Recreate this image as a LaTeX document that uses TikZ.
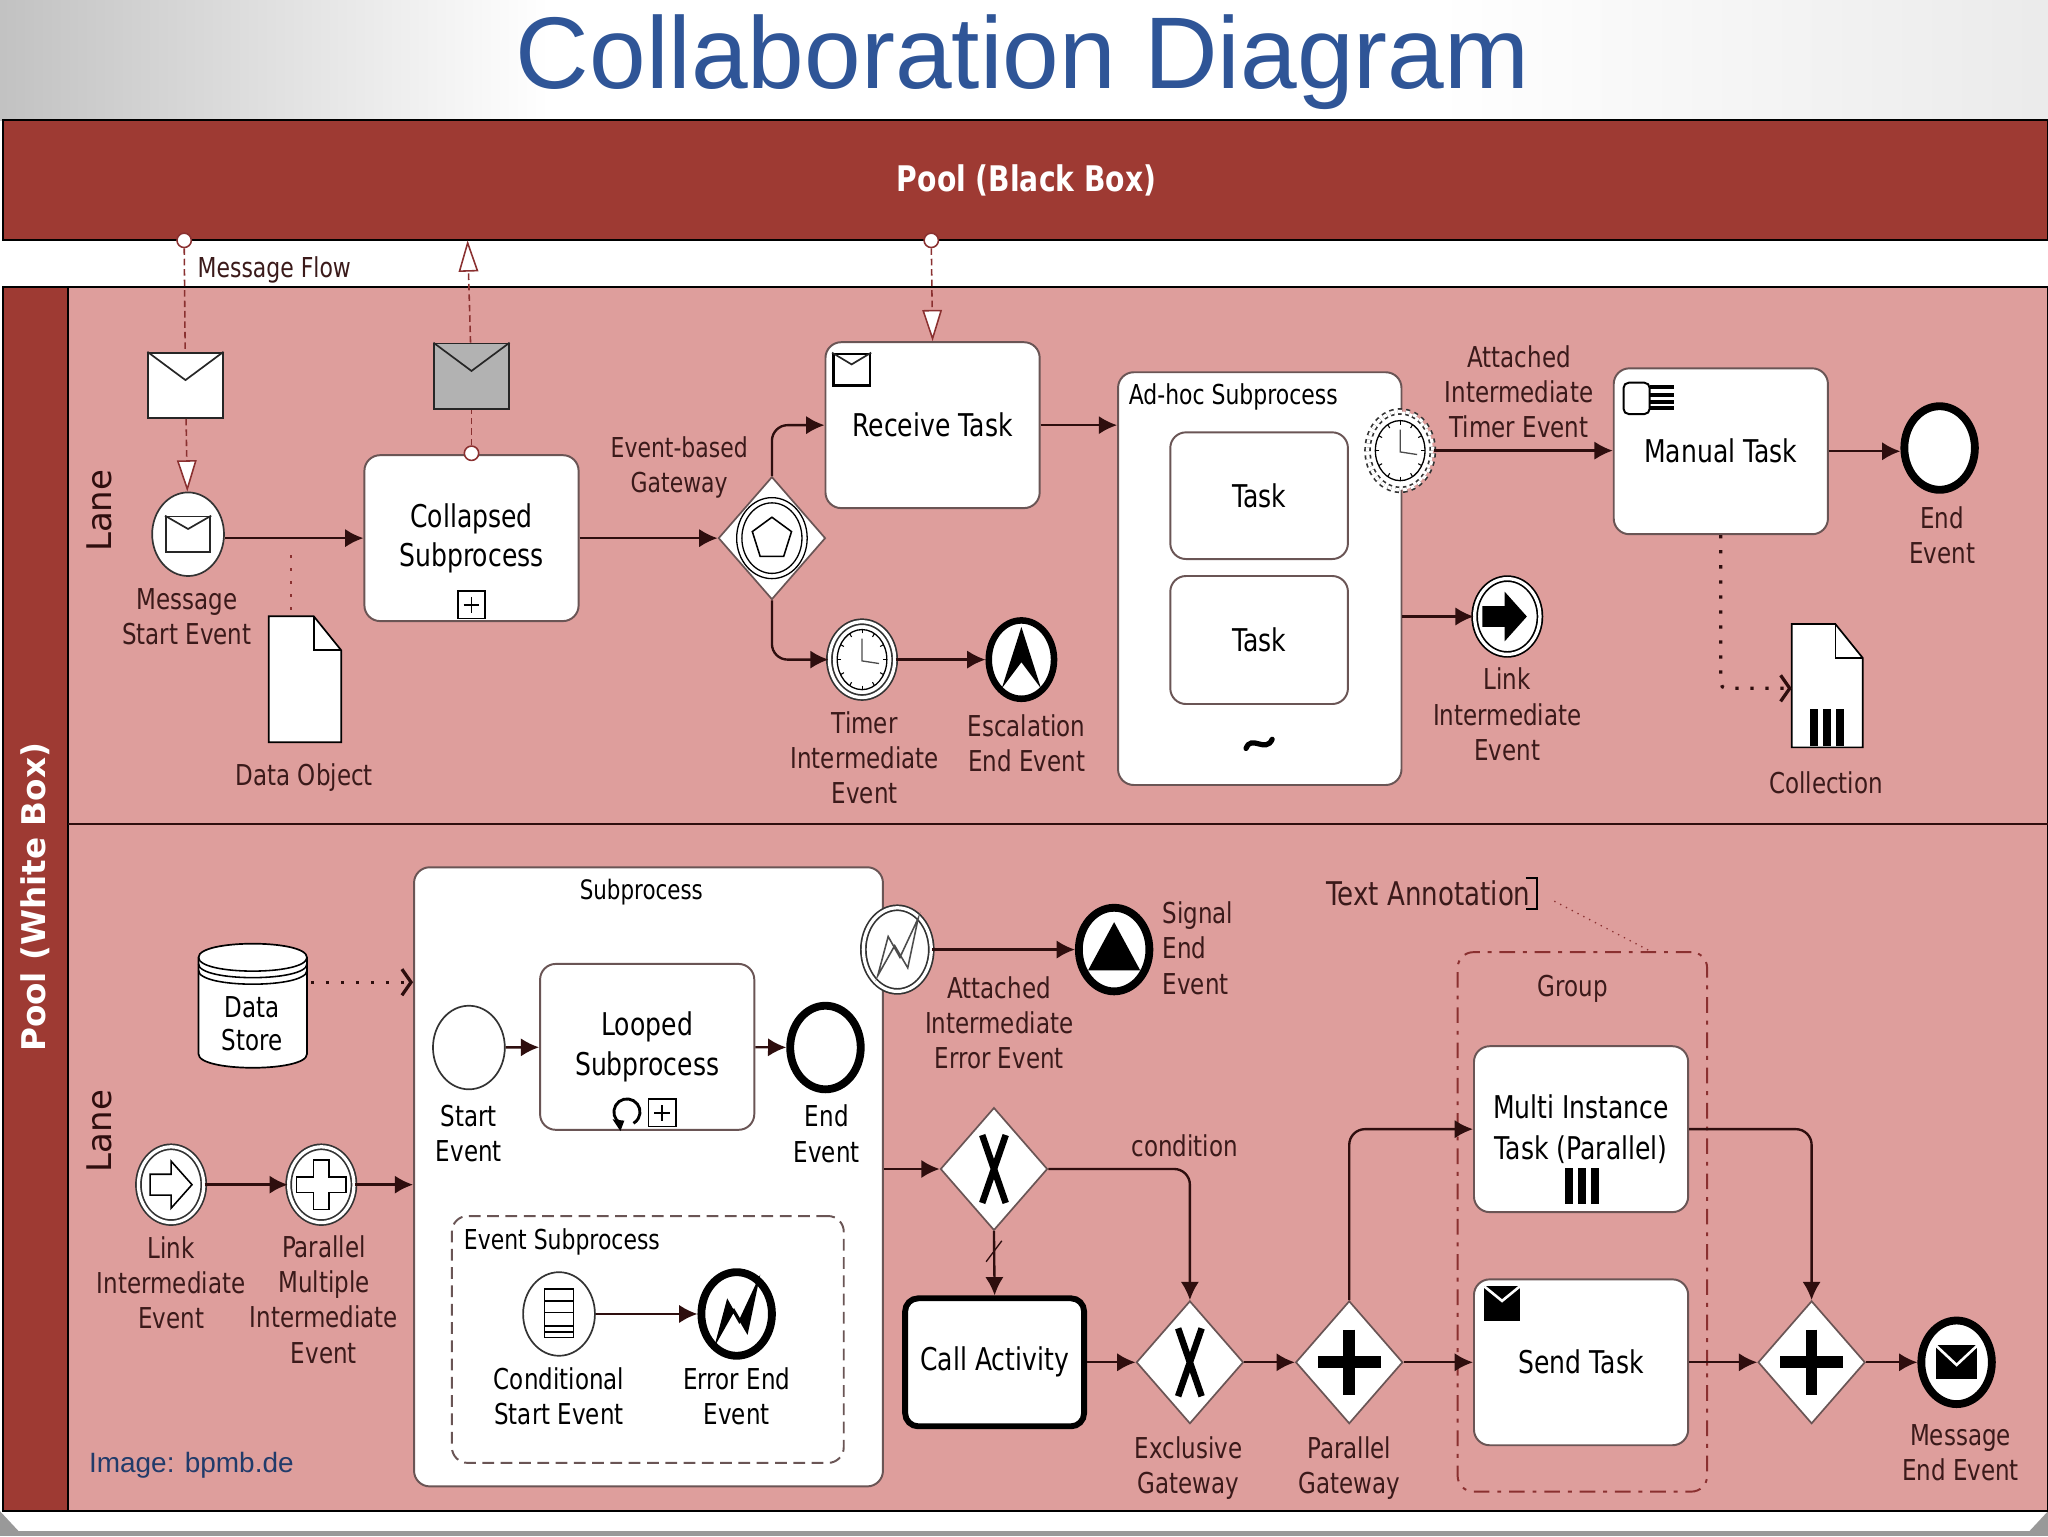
\documentclass[tikz,border=0pt]{standalone}
\usepackage{fontspec}
\usetikzlibrary{arrows.meta,shapes.geometric}
\setmainfont[FakeStretch=0.8]{DejaVu Sans}
\newfontfamily\widefont{DejaVu Sans}
\newfontfamily\titlefont{Liberation Sans}
\definecolor{poolred}{HTML}{9E3A33}
\definecolor{lanered}{HTML}{DE9E9C}
\definecolor{flowcol}{HTML}{2E0E0E}
\definecolor{msgcol}{HTML}{8A3030}
\definecolor{boxline}{HTML}{6A5555}
\definecolor{labelcol}{HTML}{3B1A1A}
\definecolor{titleblue}{HTML}{2F5597}
\tikzset{
	task/.style={draw=boxline,line width=1.5pt,fill=white,rounded corners=12pt,minimum width=164pt,minimum height=127pt,align=center,inner sep=0pt,text=black,font=\fontsize{24}{30}\selectfont},
	event/.style={ellipse,draw=black!80,line width=1.3pt,fill=white,inner sep=0pt,minimum width=55pt,minimum height=64pt},
	endevent/.style={event,draw=black,line width=6pt,minimum width=54pt,minimum height=64pt},
	interevent/.style={event,double=white,double distance=2.5pt,minimum width=50pt,minimum height=58pt},
	gateway/.style={diamond,draw=boxline,line width=1.3pt,fill=white,inner sep=0pt,minimum width=82pt,minimum height=94pt,aspect=0.87},
	flow/.style={draw=flowcol,line width=1.8pt,-{Latex[length=14pt,width=14pt]}},
	msgflow/.style={draw=msgcol,line width=1.2pt,dash pattern=on 5pt off 3pt,-{Triangle[open,fill=white,length=24pt,width=15pt]}},
	msgline/.style={draw=msgcol,line width=1.2pt,dash pattern=on 5pt off 3pt},
	assoc/.style={draw=flowcol,line width=2.5pt,dash pattern=on 2.5pt off 9pt,-{Straight Barb[length=7pt,width=20pt]}},
	msgdot/.style={circle,draw=msgcol,line width=1.2pt,fill=white,inner sep=0pt,minimum size=11pt},
	mailbox/.style={draw=black!85,line width=1.3pt,fill=white,inner sep=0pt,minimum width=57pt,minimum height=50pt},
	paper/.style={inner sep=0pt,minimum width=55pt,minimum height=96pt},
	note/.style={align=center,text=labelcol,inner sep=0pt},
	plusbox/.style={draw=black,line width=1.2pt,fill=white,inner sep=0pt,minimum size=21pt},
	clockface/.pic={
		\draw[line width=1pt] (0,0) ellipse [x radius=19,y radius=23];
		\foreach \ang in {0,30,...,330}
			\draw[line width=.8pt] (\ang:16 and 20) -- (\ang:19 and 23);
		\draw[line width=1pt,black!70] (0,-16) -- (0,1) -- (13,3);
	},
	boltmark/.pic={
		\path[pic actions] (-15,20) -- (-7,-10) -- (2,6) -- (16,-24) -- (8,14) -- (-2,-3) -- cycle;
	},
	barsmark/.pic={
		\foreach \dx in {-13,-3,7}
			\fill[black] (\dx,-14) rectangle ++(6,28);
	},
	plussign/.pic={
		\draw[line width=1.4pt] (-6,0) -- (6,0) (0,-6) -- (0,6);
	},
}
\newcommand{\mailfold}[1]{\draw[black!85,line width=1.3pt] (#1.north west) -- ([yshift=4pt]#1.center) -- (#1.north east);}
\newcommand{\papersheet}[1]{
	\draw[draw=black,line width=1.3pt,fill=white] (#1.north west) -- ([xshift=-21pt]#1.north east) -- ([yshift=-26pt]#1.north east) -- (#1.south east) -- (#1.south west) -- cycle;
	\draw[draw=black,line width=1.3pt] ([xshift=-21pt]#1.north east) -- ([xshift=-21pt,yshift=-26pt]#1.north east) -- ([yshift=-26pt]#1.north east);
}
\begin{document}
\begin{tikzpicture}[x=1pt,y=-1pt]
	\useasboundingbox (0, 0) rectangle (1568, 1176);
	\fill[white] (0, 0) rectangle (1568, 1176);
	\shade[left color=black!24,right color=white] (0, 0) rectangle (420, 92);
	\shade[left color=white,right color=black!8] (1100, 0) rectangle (1568, 92);
	\fill[black!40] (0, 1172) rectangle (1568, 1176);
	\fill[black!40] (0, 1157) -- (14, 1172) -- (0, 1172) -- cycle;
	\fill[black!40] (1568, 1157) -- (1554, 1172) -- (1568, 1172) -- cycle;

	\draw[black,line width=1.5pt,fill=poolred] (2, 92) rectangle (1568, 184);
	\draw[black,line width=1.5pt,fill=lanered] (2, 220) rectangle (1568, 1157);
	\draw[black,line width=1.5pt,fill=poolred] (2, 220) rectangle (52, 1157);
	\draw[flowcol,line width=1.5pt] (52, 631) -- (1568, 631);

	\begin{scope}[every node/.append style={font=\fontsize{22}{27}\selectfont}]
		\node[text=titleblue,anchor=base,font=\titlefont\fontsize{78}{90}\selectfont] (title) at (783, 68) {Collaboration Diagram};
		\node[text=white,font=\bfseries\fontsize{27}{30}\selectfont] (blackbox) at (786, 138) {Pool (Black Box)};
		\node[text=white,rotate=90,font=\widefont\bfseries\fontsize{25}{28}\selectfont] (whitebox) at (27, 687) {Pool (White Box)};
		\node[text=flowcol,rotate=90,font=\widefont\fontsize{26}{28}\selectfont] (lane1) at (76, 391) {Lane};
		\node[text=flowcol,rotate=90,font=\widefont\fontsize{26}{28}\selectfont] (lane2) at (76, 866) {Lane};

		\node[msgdot] (dot1) at (141, 184) {};
		\node[mailbox] (mail1) at (142, 295) {};
		\node[event] (msgstart) at (144, 409) {};
		\node[task] (collapsed) at (361, 412) {Collapsed\\Subprocess};
		\node[plusbox] (collapsedplus) at (361, 463) {};
		\node[msgdot] (dot2) at (361, 347) {};
		\node[mailbox,fill=black!30] (mail2) at (361, 288) {};
		\coordinate (pooledge) at (358, 184);
		\node[msgdot] (dot3) at (713, 184) {};
		\node[paper] (dataobject) at (233.5, 520) {};
		\coordinate (dataend) at (223, 425);
		\node[gateway] (eventgw) at (591, 412) {};
		\node[task] (receive) at (714, 325.5) {Receive Task};
		\node[mailbox,line width=2pt,draw=black,minimum width=28pt,minimum height=24pt] (receivemail) at (652, 283) {};
		\node[interevent] (timer) at (660, 505) {};
		\node[endevent,line width=5pt,minimum width=50pt,minimum height=60pt] (escalation) at (782, 505) {};

		\node[task,minimum width=217pt,minimum height=316pt] (adhoc) at (964.5, 443) {};
		\node[task,minimum width=136pt,minimum height=97pt] (task1) at (964, 379.5) {Task};
		\node[task,minimum width=136pt,minimum height=98pt] (task2) at (964, 490) {Task};
		\node[interevent,dashed,minimum width=50pt,minimum height=60pt] (attimer) at (1072, 345) {};
		\node[task] (manual) at (1317.5, 345.5) {Manual Task};
		\node[endevent] (end1) at (1485, 343) {};
		\node[interevent,draw=black] (link1) at (1154, 472) {};
		\node[paper,minimum width=54pt,minimum height=94pt] (collection) at (1399, 525) {};
		\coordinate (collectbend) at (1317, 527);

		\node[task,minimum width=359pt,minimum height=474pt] (subprocess) at (496.5, 901) {};
		\node[inner sep=0pt,minimum width=83pt,minimum height=94pt,align=center] (datastore) at (193.5, 770) {};
		\coordinate (storeout) at (238, 752);
		\node[event] (start) at (359, 802) {};
		\node[task,font=\fontsize{24}{31}\selectfont] (looped) at (495.5, 801.5) {Looped\\Subprocess};
		\node[plusbox] (loopedplus) at (507, 852) {};
		\node[endevent] (end2) at (632, 802) {};
		\node[task,dash pattern=on 9pt off 5pt,minimum width=300pt,minimum height=189pt] (eventsub) at (496, 1025.5) {};
		\node[event] (conditional) at (428, 1006) {};
		\node[endevent] (errorend) at (564, 1006) {};
		\node[interevent] (link2) at (131, 907) {};
		\node[interevent] (parmulti) at (246, 907) {};
		\node[interevent,minimum width=52pt,minimum height=64pt] (aterror) at (687, 727) {};
		\node[endevent] (signal) at (853, 727) {};

		\node[gateway] (xorsplit) at (761, 895) {};
		\node[task,draw=black,line width=4.5pt,minimum width=137pt,minimum height=98pt,rounded corners=10pt] (call) at (761.5, 1043) {Call Activity};
		\node[gateway] (xorjoin) at (911, 1043) {};
		\node[gateway] (andsplit) at (1033, 1043) {};
		\node[task,font=\fontsize{24}{31}\selectfont] (multi) at (1210.5, 864.5) {Multi Instance\\Task (Parallel)};
		\node[task] (send) at (1210.5, 1043) {Send Task};
		\node[mailbox,draw=black,fill=black,minimum width=26pt,minimum height=25pt] (sendmail) at (1150, 998) {};
		\node[gateway] (andjoin) at (1387, 1043) {};
		\node[endevent] (msgend) at (1498, 1043) {};
		\node[task,draw=msgcol,dash pattern=on 12pt off 6pt on 3pt off 6pt,fill=none,minimum width=191pt,minimum height=413pt] (group) at (1211.5, 935.5) {};
		\coordinate (groupin) at (1265, 729);

		\node[note,font=\fontsize{21}{27}\selectfont] (notemsg) at (210, 207) {Message Flow};
		\node[note] (notestart) at (143, 472) {Message\\Start Event};
		\node[note] (notedata) at (233, 595) {Data Object};
		\node[note,font=\fontsize{21}{27}\selectfont] (notegw) at (520, 358) {Event-based\\Gateway};
		\node[note] (notetimer) at (662, 580) {Timer\\Intermediate\\Event};
		\node[note] (noteesc) at (786, 569) {Escalation\\End Event};
		\node[note,anchor=west,text=black,font=\fontsize{21}{27}\selectfont] (noteadhoc) at (864, 304) {Ad-hoc Subprocess};
		\node[note] (noteattimer) at (1163, 300) {Attached\\Intermediate\\Timer Event};
		\node[note] (noteend) at (1487, 410) {End\\Event};
		\node[note] (notelink) at (1154, 547) {Link\\Intermediate\\Event};
		\node[note] (notecoll) at (1398, 599) {Collection};
		\node[note,text=black,font=\fontsize{20.5}{27}\selectfont] (notesub) at (491, 683) {Subprocess};
		\node[note,text=black] (notestartev) at (359, 868) {Start\\Event};
		\node[note,text=black] (noteendev) at (633, 868) {End\\Event};
		\node[note,anchor=west,text=black,font=\fontsize{21}{27}\selectfont] (noteevsub) at (355, 951) {Event Subprocess};
		\node[note,text=black] (notecond) at (428, 1069) {Conditional\\Start Event};
		\node[note,text=black] (noteerr) at (564, 1069) {Error End\\Event};
		\node[note] (notelink2) at (131, 982) {Link\\Intermediate\\Event};
		\node[note] (notepar) at (248, 995) {Parallel\\Multiple\\Intermediate\\Event};
		\node[note] (noteaterr) at (765, 783) {Attached\\Intermediate\\Error Event};
		\node[note,align=left,anchor=west] (notesig) at (890, 726) {Signal\\End\\Event};
		\node[note] (notecondit) at (907, 877) {condition};
		\node[note] (notexor) at (910, 1124) {Exclusive\\Gateway};
		\node[note] (notepg) at (1033, 1124) {Parallel\\Gateway};
		\node[note] (notegroup) at (1204, 757) {Group};
		\node[note,anchor=east,font=\fontsize{25}{27}\selectfont] (noteannot) at (1172, 684) {Text Annotation};
		\coordinate (annotend) at (1190, 690);
		\node[note] (notemsgend) at (1501, 1112) {Message\\End Event};
		\node[text=titleblue!70!black,anchor=west,inner sep=0pt,font=\titlefont\fontsize{21.4}{24}\selectfont] (credit) at (68, 1122) {Image: bpmb.de};
	\end{scope}

	\papersheet{dataobject}
	\papersheet{collection}
	\mailfold{mail1}
	\mailfold{mail2}
	\mailfold{receivemail}
	\draw[white,line width=2pt] (sendmail.north west) -- ([yshift=2pt]sendmail.center) -- (sendmail.north east);
	\pic at (collapsedplus) {plussign};
	\pic at (loopedplus) {plussign};
	\pic at (1211, 908) {barsmark};
	\pic at (1399, 557) {barsmark};

	\node[mailbox,minimum width=34pt,minimum height=27pt] (startmail) at (144, 409) {};
	\mailfold{startmail}
	\draw[line width=1pt] (eventgw) ellipse [x radius=27,y radius=31];
	\draw[line width=1pt] (eventgw) ellipse [x radius=23,y radius=27];
	\draw[line width=1.2pt] (591, 396) -- (606, 407) -- (600, 426) -- (582, 426) -- (576, 407) -- cycle;
	\pic at (timer) {clockface};
	\pic at (attimer) {clockface};
	\fill[black] (782, 480) -- (797, 527) -- (782, 507) -- (767, 527) -- cycle;
	\fill[black] (1135, 464) -- (1152, 464) -- (1152, 453) -- (1169, 472) -- (1152, 491) -- (1152, 480) -- (1135, 480) -- cycle;
	\draw[line width=1.2pt,fill=white] (115, 899) -- (131, 899) -- (131, 889) -- (147, 907) -- (131, 925) -- (131, 915) -- (115, 915) -- cycle;
	\draw[line width=1.4pt] (240, 888) -- (252, 888) -- (252, 901) -- (265, 901) -- (265, 913) -- (252, 913) -- (252, 926) -- (240, 926) -- (240, 913) -- (227, 913) -- (227, 901) -- (240, 901) -- cycle;
	\pic[draw=black!70,line width=1.2pt,fill=white] at (aterror) {boltmark};
	\pic[draw=black,line width=1.5pt,fill=black] at (errorend) {boltmark};
	\fill[black] (853, 706) -- (873, 743) -- (833, 743) -- cycle;
	\draw[line width=1.2pt] (417, 987) rectangle (439, 1024) (417, 996) -- (439, 996) (417, 1005) -- (439, 1005) (417, 1015) -- (439, 1015) (417, 1020) -- (439, 1020);
	\fill[black] (1482, 1030) rectangle (1514, 1056);
	\draw[white,line width=2pt] (1482, 1030) -- (1498, 1045) -- (1514, 1030);
	\draw[line width=4pt,line cap=round] (954, 573) .. controls (958, 562) and (969, 577) .. (974, 566);
	\draw[line width=2.2pt] (475, 860) arc [start angle=120,end angle=420,radius=10];
	\fill[black] (469, 857) -- (478, 858) -- (475, 866) -- cycle;
	\draw[line width=1.5pt,rounded corners=4pt] (1243, 293) rectangle (1263, 317);
	\foreach \ybar in {295,301,306,311}
		\fill[black] (1263, \ybar) rectangle (1282, \ybar + 3);
	\draw[black,line width=1.5pt] (1168, 672) -- (1177, 672) -- (1177, 696) -- (1168, 696);

	\draw[draw=black,line width=1.3pt,fill=white] (152, 733) -- (152, 807) .. controls (152, 821) and (235, 821) .. (235, 807) -- (235, 733) .. controls (235, 719) and (152, 719) .. (152, 733) -- cycle;
	\draw[line width=1.2pt] (152, 733) .. controls (152, 747) and (235, 747) .. (235, 733);
	\draw[line width=1.2pt] (152, 738) .. controls (152, 752) and (235, 752) .. (235, 738);
	\draw[line width=1.2pt] (152, 743) .. controls (152, 757) and (235, 757) .. (235, 743);
	\node[font=\fontsize{22}{25}\selectfont,align=center,text=black,inner sep=0pt] (storetext) at (193, 784) {Data\\Store};

	\foreach \gw in {andsplit,andjoin}
		\draw[line width=9pt] (\gw) ++(-24, 0) -- ++(48, 0) (\gw) ++(0, -25) -- ++(0, 50);
	\foreach \gw in {xorsplit,xorjoin}
		\draw[line width=5pt] (\gw) ++(-9, -26) -- ++(18, 52) (\gw) ++(9, -26) -- ++(-18, 52);

	\draw[msgline] (dot1) -- (mail1);
	\draw[msgflow] (mail1) -- (msgstart);
	\draw[msgline] (dot2) -- (mail2);
	\draw[msgflow] (mail2) -- (pooledge);
	\draw[msgflow] (dot3) -- (receive.north);
	\draw[flow] (msgstart.east |- collapsed.west) -- (collapsed.west);
	\draw[flow] (collapsed.east) -- (eventgw.west);
	\draw[flow,rounded corners=12pt] (eventgw.north) |- (receive.west);
	\draw[flow,rounded corners=12pt] (eventgw.south) |- (timer.west);
	\draw[flow] (timer) -- (escalation);
	\draw[flow] (receive.east) -- (adhoc.west |- receive.east);
	\draw[flow] (attimer.east) -- (manual.west |- attimer.east);
	\draw[flow] (manual.east) -- (end1.west |- manual.east);
	\draw[flow] (adhoc.east |- link1) -- (link1.west);
	\draw[assoc,rounded corners=4pt] (manual.south) |- (collection.west |- collectbend);
	\draw[draw=msgcol,line width=1.6pt,dash pattern=on 2pt off 8pt] (dataend) -- (dataobject.north -| dataend);
	\draw[assoc] (storeout) -- (storeout -| subprocess.west);
	\draw[flow] (start) -- (looped);
	\draw[flow] (looped) -- (end2);
	\draw[flow] (conditional) -- (errorend);
	\draw[flow] (link2) -- (parmulti);
	\draw[flow] (parmulti.east) -- (subprocess.west |- parmulti.east);
	\draw[flow] (aterror) -- (signal);
	\draw[flow] (subprocess.east |- xorsplit) -- (xorsplit.west);
	\draw[flow] (xorsplit.south) -- (call.north);
	\draw[draw=flowcol,line width=1pt] (755, 966) -- (767, 950);
	\draw[flow,rounded corners=12pt] (xorsplit.east) -| (xorjoin.north);
	\draw[flow] (call) -- (xorjoin);
	\draw[flow] (xorjoin) -- (andsplit);
	\draw[flow] (andsplit) -- (send);
	\draw[flow,rounded corners=12pt] (andsplit.north) |- (multi.west);
	\draw[flow,rounded corners=12pt] (multi.east) -| (andjoin.north);
	\draw[flow] (send) -- (andjoin);
	\draw[flow] (andjoin) -- (msgend);
	\draw[draw=msgcol,line width=1pt,dash pattern=on 1pt off 4pt] (annotend) -- (groupin);
\end{tikzpicture}
\end{document}
